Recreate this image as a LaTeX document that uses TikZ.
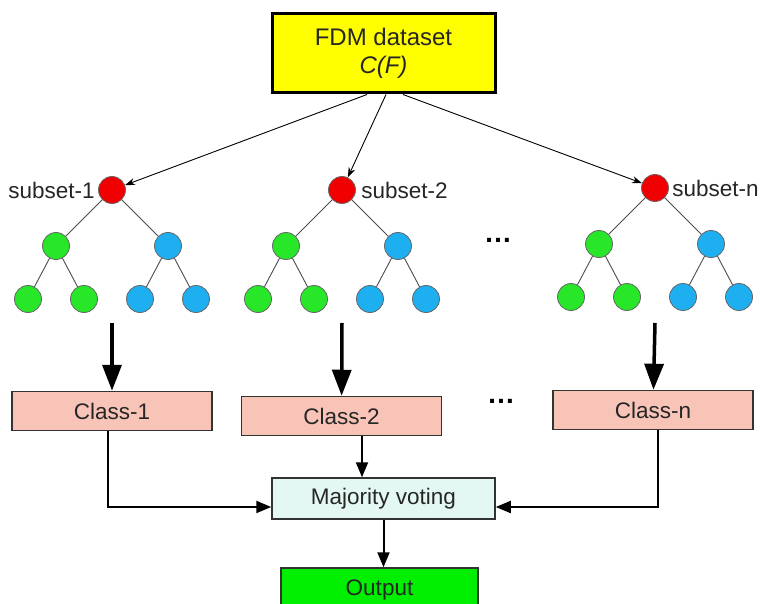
\documentclass[tikz,border=0pt]{standalone}
\usepackage{fontspec}
\setmainfont{Liberation Sans}
\usetikzlibrary{positioning,arrows.meta}

\definecolor{fdmyellow}{RGB}{255,255,0}
\definecolor{clspink}{RGB}{248,196,184}
\definecolor{votecyan}{RGB}{228,248,243}
\definecolor{outgreen}{RGB}{0,238,0}
\definecolor{rootred}{RGB}{240,0,0}
\definecolor{leafgreen}{RGB}{40,230,40}
\definecolor{leafblue}{RGB}{30,175,240}

\begin{document}
\begin{tikzpicture}[x=1pt,y=-1pt]
  \tikzset{
    every node/.style={font=\fontsize{22.5}{28}\selectfont,text=black!85},
    box/.style={draw=black!80,line width=1.5pt,minimum width=200pt,minimum height=39pt},
    dot/.style={circle,draw=black!60,line width=0.8pt,minimum size=27pt,inner sep=0pt},
    twig/.style={draw=black!70,line width=0.9pt},
    feed/.style={-{Stealth[length=10pt,width=7pt]},line width=0.9pt},
    bigarrow/.style={-{Triangle[length=26pt,width=19pt]},line width=3.5pt},
    vote/.style={-{Triangle[length=15pt,width=12pt]},line width=2pt},
    ellip/.style={font=\bfseries\fontsize{28}{30}\selectfont,text=black}
  }
  \clip (0,0) rectangle (761,604);
  \useasboundingbox (0,0) rectangle (761,604);

  \node[box,fill=fdmyellow,draw=black,line width=3pt,minimum width=223pt,
        minimum height=79pt,align=center,font=\fontsize{24}{28}\selectfont] (fdm) at (383.5,53.5)
        {FDM dataset\\\textit{C(F)}};

  % one binary tree per subset
  \foreach \t/\x/\y in {1/112/190, 2/342/190, n/655/188} {
    \node[dot,fill=rootred] (r\t) at (\x,\y) {};
    \node[dot,fill=leafgreen] (g\t) at ([shift={(-56,56)}]r\t) {};
    \node[dot,fill=leafblue] (b\t) at ([shift={(56,56)}]r\t) {};
    \node[dot,fill=leafgreen] (gl\t) at ([shift={(-28,53)}]g\t) {};
    \node[dot,fill=leafgreen] (gr\t) at ([shift={(28,53)}]g\t) {};
    \node[dot,fill=leafblue] (bl\t) at ([shift={(-28,53)}]b\t) {};
    \node[dot,fill=leafblue] (br\t) at ([shift={(28,53)}]b\t) {};
    \draw[twig] (r\t) -- (g\t) (r\t) -- (b\t)
                (g\t) -- (gl\t) (g\t) -- (gr\t)
                (b\t) -- (bl\t) (b\t) -- (br\t);
    \coordinate (a\t) at (\x,323);
  }

  \node[left=0pt of r1] (s1) {subset-1};
  \node[right=2pt of r2] (s2) {subset-2};
  \node[right=0pt of rn] (sn) {subset-n};

  \draw[feed] ([xshift=-16.5pt]fdm.south) -- (r1);
  \draw[feed] ([xshift=2.5pt]fdm.south) -- (r2);
  \draw[feed] ([xshift=19.5pt]fdm.south) -- (rn);

  \node[ellip] (dt) at (498,240) {…};

  \node[box,fill=clspink] (c1) at (112,411) {Class-1};
  \node[box,fill=clspink] (c2) at (341.5,416) {Class-2};
  \node[box,fill=clspink] (cn) at (653,410) {Class-n};
  \node[ellip] (dc) at (501,401) {…};

  \draw[bigarrow] (a1) -- (c1);
  \draw[bigarrow] (a2) -- (c2);
  \draw[bigarrow] (an) -- (cn);

  \node[box,fill=votecyan,minimum width=223pt,minimum height=41pt] (mv) at (383.5,498.5) {Majority voting};
  \node[box,fill=outgreen,minimum width=197pt,minimum height=44pt] (out) at (379.5,590) {Output};

  \draw[vote] ([xshift=-4pt]c1.south) |- ([yshift=-8.5pt]mv.west);
  \draw[vote] ([xshift=20.5pt]c2.south) -- ([xshift=20.5pt]c2.south |- mv.north);
  \draw[vote] ([xshift=5pt]cn.south) |- ([yshift=-8.5pt]mv.east);
  \draw[vote] (mv.south) -- (mv.south |- out.north);
\end{tikzpicture}
\end{document}
